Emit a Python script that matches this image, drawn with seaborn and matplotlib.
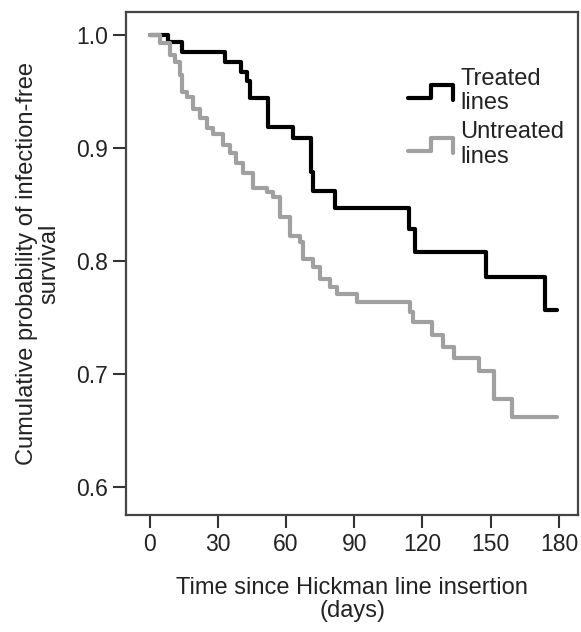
import numpy as np
import pandas as pd
import seaborn as sns
from matplotlib import pyplot as plt
from matplotlib.lines import Line2D
from matplotlib.legend_handler import HandlerBase

# Kaplan-Meier step values
treated_days = [0, 8, 14.5, 33, 40, 43, 44, 52, 63, 71, 72, 81.5, 114, 116.5, 148, 174, 179]
treated_surv = [1.0, 0.994, 0.985, 0.976, 0.967, 0.959, 0.944, 0.919, 0.909, 0.879, 0.862,
                0.847, 0.828, 0.808, 0.786, 0.757, 0.757]

untreated_days = [0, 4.8, 9.2, 11.4, 13.6, 14.5, 16.6, 19.3, 22.3, 25.4, 28, 32.4, 35.5, 38,
                  41, 45.5, 51.7, 54.3, 57.4, 61.8, 66, 67.5, 71.8, 74.9, 79.3, 82.3, 91,
                  114.3, 116, 124, 129, 134, 145, 151.5, 159.5, 179]
untreated_surv = [1.0, 0.993, 0.982, 0.976, 0.965, 0.950, 0.945, 0.935, 0.927, 0.918, 0.912,
                  0.903, 0.896, 0.887, 0.878, 0.865, 0.861, 0.857, 0.839, 0.822, 0.817, 0.802,
                  0.795, 0.784, 0.777, 0.771, 0.764, 0.755, 0.746, 0.735, 0.724, 0.714, 0.703,
                  0.678, 0.662, 0.662]

groups = ["Treated\nlines", "Untreated\nlines"]
colors = ["#000000", "#a0a0a0"]
x_ticks = [0, 30, 60, 90, 120, 150, 180]
y_ticks = [0.6, 0.7, 0.8, 0.9, 1.0]

df = pd.concat([
    pd.DataFrame({"day": treated_days, "surv": treated_surv, "group": groups[0]}),
    pd.DataFrame({"day": untreated_days, "surv": untreated_surv, "group": groups[1]}),
])

sns.set_style("white")
plt.rcParams["font.family"] = ["Liberation Sans", "DejaVu Sans"]

fig = plt.figure(figsize=(5.81, 6.32), dpi=100)
ax = fig.add_axes([0.217, 0.185, 0.778, 0.796])

sns.lineplot(data=df, x="day", y="surv", hue="group", palette=colors,
             drawstyle="steps-post", estimator=None, sort=False,
             linewidth=3.0, ax=ax, legend=False)

ax.set_xlim(-10.3, 188.4)
ax.set_ylim(0.5752, 1.0204)
ax.set_xticks(x_ticks)
ax.set_xticklabels([str(t) for t in x_ticks])
ax.set_yticks(y_ticks)
ax.set_yticklabels([f"{t:.1f}" for t in y_ticks])
ax.tick_params(axis="both", direction="out", length=9.5, width=1.5, color="#333333",
               labelsize=16.5, labelcolor="#222222", pad=3.5, left=True, bottom=True)
for s in ax.spines.values():
    s.set_color("#444444")
    s.set_linewidth(1.6)

ax.set_xlabel("Time since Hickman line insertion\n(days)", fontsize=17,
              color="#222222", labelpad=15, linespacing=1.05)
ax.set_ylabel("Cumulative probability of infection-free\nsurvival", fontsize=17,
              color="#222222", labelpad=11, linespacing=1.05)


class StepHandler(HandlerBase):
    def create_artists(self, legend, orig_handle, xdescent, ydescent, width, height,
                       fontsize, trans):
        lo = -ydescent + height * 0.1
        hi = -ydescent + height * 0.9
        xs = np.array([0, 0.5, 0.5, 1.0, 1.0]) * width - xdescent
        ys = [lo, lo, hi, hi, lo - height * 0.1]
        ln = Line2D(xs, ys, color=orig_handle.get_color(), linewidth=orig_handle.get_linewidth(),
                    transform=trans)
        return [ln]


handles = [Line2D([], [], color=c, linewidth=3.0) for c in colors]
leg = ax.legend(handles, groups, handler_map={Line2D: StepHandler()}, loc="upper left",
                bbox_to_anchor=(0.624, 0.888), frameon=False, fontsize=17,
                handlelength=1.9, handletextpad=0.3, labelspacing=0.3,
                borderaxespad=0, borderpad=0)
for t in leg.get_texts():
    t.set_linespacing(1.12)
    t.set_color("#222222")

fig.savefig("out.png", dpi=100)
